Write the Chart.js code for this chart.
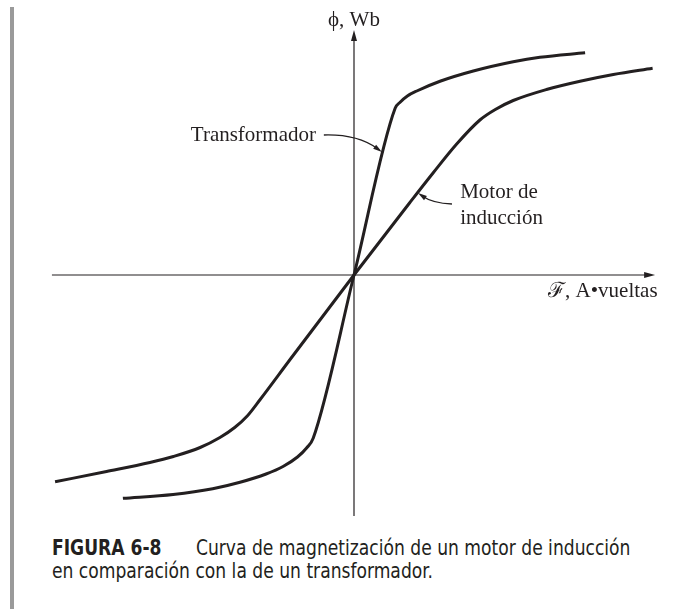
<!DOCTYPE html>
<html>
<head>
<meta charset="utf-8">
<script src="https://cdn.jsdelivr.net/npm/chart.js@4"></script>
<style>
html,body{margin:0;padding:0;background:#fff;}
#page{position:relative;width:676px;height:609px;overflow:hidden;background:#fff;}
#bar{position:absolute;left:10px;top:7px;width:4px;height:602px;background:#9a9a9a;}
#c{position:absolute;left:0;top:0;}
#cap{position:absolute;left:52px;top:537px;font-family:"DejaVu Sans Condensed","DejaVu Sans",sans-serif;font-stretch:condensed;
  font-size:21px;line-height:23px;color:#231f20;white-space:nowrap;transform-origin:0 0;}
#cap b{margin-right:38px;}
</style>
</head>
<body>
<div id="page">
  <div id="bar"></div>
  <canvas id="c" width="676" height="530"></canvas>
  <div id="cap"><span id="l1"><b>FIGURA 6-8</b>Curva de magnetización de un motor de inducción</span><br><span id="l2">en comparación con la de un transformador.</span></div>
</div>
<script>
const INK = '#231f20';

// curva del transformador (F, phi) en unidades relativas
const trafoF   = [-73.6, -57.6, -45.0, -36.3, -28.0, -22.6, -18.0, -15.1, -13.0, 0, 13.1, 14.6, 17.0, 20.0, 27.4, 38.0, 50.7, 59.2, 73.6];
const trafoPhi = [-89.3, -87.8, -85.5, -82.9, -79.6, -76.6, -72.8, -69.2, -65.3, 0, 66.7, 69.0, 71.6, 73.6, 77.5, 81.6, 85.3, 87.1, 88.9];

// curva del motor de induccion
const motorF   = [-95.2, -78.8, -65.0, -57.5, -49.0, -42.7, -38.0, -34.0, -30.0, -20.0, 0, 17.8, 25.3, 32.7, 40.1, 45.0, 50.7, 61.3, 72.0, 82.6, 95.1];
const motorPhi = [-82.7, -78.6, -75.0, -72.6, -69.0, -65.0, -61.0, -56.4, -50.0, -33.2, 0, 29.0, 41.0, 52.4, 62.0, 66.2, 69.8, 74.2, 77.5, 80.2, 82.7];

// extension de los ejes
const axisF   = [-96.2, 95.9];
const axisPhi = [-96.4, 98.0];

const yTitle = 'ϕ, Wb';
const xTitle = 'ℱ, A•vueltas';
const trafoLabel = ['Transformador'];
const motorLabel = ['Motor de', 'inducción'];

// posiciones de las etiquetas (F, phi)
const yTitlePos = [0, 99.6];
const xTitlePos = [61.8, -8.8];
const trafoLabelPos = [-12.1, 53.6];
const motorLabelPos = [33.8, 30.8];
// flechas de las etiquetas: inicio, control, punta
const trafoArrow = [[-9.6, 56.0], [1.0, 56.4], [8.9, 49.2]];
const motorArrow = [[31.2, 28.4], [25.0, 28.8], [20.4, 32.8]];

function pts(xs, ys){ return xs.map((x,i)=>({x:x, y:ys[i]})); }

function head(ctx, x, y, ang, len, w){
  ctx.save();
  ctx.translate(x, y); ctx.rotate(ang);
  ctx.beginPath(); ctx.moveTo(0,0); ctx.lineTo(-len, w/2); ctx.lineTo(-len, -w/2); ctx.closePath();
  ctx.fill();
  ctx.restore();
}

const figure = {
  id: 'figure',
  beforeDatasetsDraw(chart){
    const ctx = chart.ctx, xs = chart.scales.x, ys = chart.scales.y;
    const x0 = xs.getPixelForValue(0), y0 = ys.getPixelForValue(0);
    ctx.save();
    ctx.strokeStyle = INK; ctx.fillStyle = INK; ctx.lineWidth = 1.2;
    const xa = xs.getPixelForValue(axisF[0]), xb = xs.getPixelForValue(axisF[1]);
    const ya = ys.getPixelForValue(axisPhi[0]), yb = ys.getPixelForValue(axisPhi[1]);
    ctx.beginPath(); ctx.moveTo(xa, y0); ctx.lineTo(xb - 8, y0); ctx.stroke();
    ctx.beginPath(); ctx.moveTo(x0, ya); ctx.lineTo(x0, yb + 8); ctx.stroke();
    head(ctx, xb, y0, 0, 11, 6);
    head(ctx, x0, yb, -Math.PI/2, 11, 6);
    ctx.restore();
  },
  afterDatasetsDraw(chart){
    const ctx = chart.ctx, xs = chart.scales.x, ys = chart.scales.y;
    const px = p => [xs.getPixelForValue(p[0]), ys.getPixelForValue(p[1])];
    ctx.save();
    ctx.fillStyle = INK; ctx.strokeStyle = INK;
    ctx.font = '21px "Liberation Serif", "Times New Roman", serif';
    ctx.textBaseline = 'alphabetic';
    let p = px(yTitlePos); ctx.textAlign = 'center'; ctx.fillText(yTitle, p[0], p[1]);
    p = px(xTitlePos); ctx.textAlign = 'left'; ctx.fillText(xTitle, p[0], p[1]);
    p = px(trafoLabelPos); ctx.textAlign = 'right'; ctx.fillText(trafoLabel[0], p[0], p[1]);
    p = px(motorLabelPos); ctx.textAlign = 'left';
    motorLabel.forEach((t,i)=>ctx.fillText(t, p[0], p[1] + i*26));
    ctx.lineWidth = 1.3;
    [trafoArrow, motorArrow].forEach(a=>{
      const s = px(a[0]), c = px(a[1]), e = px(a[2]);
      const ang = Math.atan2(e[1]-c[1], e[0]-c[0]);
      ctx.beginPath(); ctx.moveTo(s[0], s[1]);
      ctx.quadraticCurveTo(c[0], c[1], e[0] - 6*Math.cos(ang), e[1] - 6*Math.sin(ang));
      ctx.stroke();
      head(ctx, e[0], e[1], ang, 9, 5);
    });
    ctx.restore();
  }
};

new Chart(document.getElementById('c'), {
  type: 'scatter',
  data: {
    datasets: [
      {label:'Transformador', data:pts(trafoF, trafoPhi), showLine:true, borderColor:INK, borderWidth:3,
       pointRadius:0, cubicInterpolationMode:'monotone', fill:false},
      {label:'Motor de inducción', data:pts(motorF, motorPhi), showLine:true, borderColor:INK, borderWidth:3,
       pointRadius:0, cubicInterpolationMode:'monotone', fill:false}
    ]
  },
  options: {
    responsive:false, animation:false, events:[],
    layout:{padding:{left:40, right:8, top:25, bottom:5}},
    scales:{
      x:{type:'linear', min:-100, max:100, display:false},
      y:{type:'linear', min:-100, max:100, display:false}
    },
    plugins:{legend:{display:false}, tooltip:{enabled:false}}
  },
  plugins:[figure]
});

// ajustar el pie de figura al ancho original
const cap = document.getElementById('cap');
const w2 = document.getElementById('l2').getBoundingClientRect().width;
cap.style.transform = 'scaleX(' + (381 / w2) + ')';
</script>
</body>
</html>
